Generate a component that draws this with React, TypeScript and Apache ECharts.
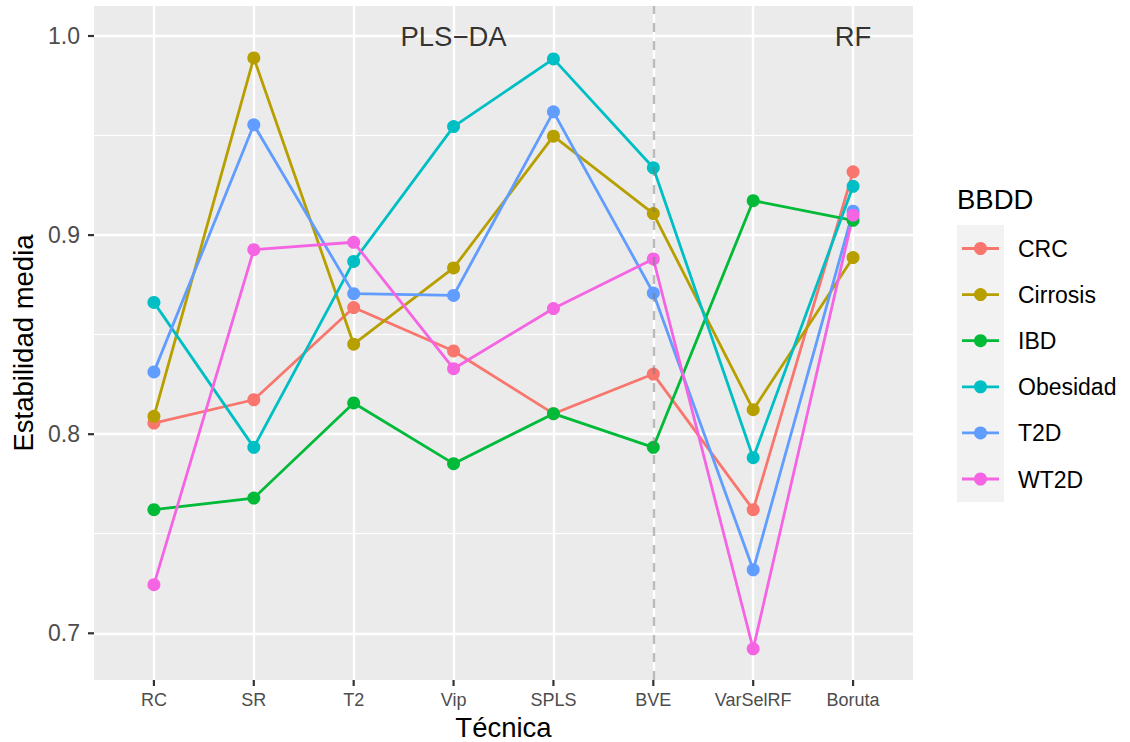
import React, { useEffect, useRef } from "react";
import * as echarts from "echarts";

const categories = ["RC", "SR", "T2", "Vip", "SPLS", "BVE", "VarSelRF", "Boruta"];
const groups = ["CRC", "Cirrosis", "IBD", "Obesidad", "T2D", "WT2D"];

const crc = [0.8056, 0.8173, 0.8636, 0.8418, 0.8103, 0.8302, 0.7621, 0.9318];
const cirrosis = [0.809, 0.989, 0.8452, 0.8835, 0.9497, 0.9108, 0.8123, 0.8887];
const ibd = [0.7621, 0.7679, 0.8157, 0.7852, 0.8103, 0.7934, 0.9173, 0.9074];
const obesidad = [0.8662, 0.7934, 0.8868, 0.9545, 0.9885, 0.9338, 0.7882, 0.9245];
const t2d = [0.8313, 0.9554, 0.8706, 0.8697, 0.9619, 0.8709, 0.7319, 0.912];
const wt2d = [0.7244, 0.8927, 0.8964, 0.8329, 0.8631, 0.888, 0.6922, 0.91];

const seriesValues = [crc, cirrosis, ibd, obesidad, t2d, wt2d];
const colors = ["#F8766D", "#B79F00", "#00BA38", "#00BFC4", "#619CFF", "#F564E3"];

const yTicks = [0.7, 0.8, 0.9, 1.0];
const annotationLabels = ["PLS\u2212DA", "RF"];
const annotationX = [3, 7];
const annotationY = [1.0, 1.0];
const separatorX = 5;

const X_MIN = -0.6;
const X_MAX = 7.6;
const Y_MIN = 0.67654;
const Y_MAX = 1.01507;

const GRID_LEFT = 94;
const GRID_TOP = 6;
const GRID_W = 819;
const GRID_H = 674;

const FONT = "'Liberation Sans', Arial, Helvetica, sans-serif";

const xToPx = (x: number) => GRID_LEFT + ((x - X_MIN) / (X_MAX - X_MIN)) * GRID_W;
const yToPx = (y: number) => GRID_TOP + ((Y_MAX - y) / (Y_MAX - Y_MIN)) * GRID_H;

export default function App() {
  const ref = useRef<HTMLDivElement>(null);

  useEffect(() => {
    if (!ref.current) return;
    const chart = echarts.init(ref.current, undefined, { renderer: "svg" });

    const lineSeries = groups.map((g, gi) => ({
      name: g,
      type: "line",
      data: seriesValues[gi].map((v, i) => [i, v]),
      showSymbol: false,
      symbol: "none",
      lineStyle: { color: colors[gi], width: 2.8 },
      itemStyle: { color: colors[gi] },
      z: 2,
      silent: true,
    }));

    const pointSeries = groups.map((g, gi) => ({
      name: g + "_pts",
      type: "scatter",
      data: seriesValues[gi].map((v, i) => [i, v]),
      symbol: "circle",
      symbolSize: 13,
      itemStyle: { color: colors[gi], opacity: 1 },
      z: 3,
      silent: true,
    }));

    const vlineSeries = {
      type: "line",
      data: [],
      z: 4,
      silent: true,
      markLine: {
        silent: true,
        symbol: "none",
        label: { show: false },
        lineStyle: { type: [9, 9], color: "rgba(120,120,120,0.5)", width: 2.4 },
        data: [{ xAxis: separatorX }],
      },
    };

    const annotationSeries = {
      type: "scatter",
      data: annotationLabels.map((l, i) => ({ name: l, value: [annotationX[i], annotationY[i]] })),
      symbolSize: 1,
      itemStyle: { color: "rgba(0,0,0,0)" },
      z: 5,
      silent: true,
      label: {
        show: true,
        position: "inside",
        formatter: (p: any) => p.name,
        fontSize: 27.5,
        fontFamily: FONT,
        color: "#000000",
        align: "center",
        verticalAlign: "middle",
      },
    };

    const graphics: any[] = [
      {
        id: "legend-title",
        type: "text",
        x: 957,
        y: 199,
        style: { text: "BBDD", font: `27.5px ${FONT}`, fill: "#000", textAlign: "left", textVerticalAlign: "middle" },
      },
      {
        id: "legend-bg",
        type: "rect",
        shape: { x: 957, y: 225, width: 47, height: 277 },
        style: { fill: "#F2F2F2" },
      },
    ];
    groups.forEach((g, gi) => {
      const y = 248.5 + gi * 46.1;
      graphics.push({
        id: "legend-line-" + gi,
        type: "line",
        shape: { x1: 962, y1: y, x2: 999, y2: y },
        style: { stroke: colors[gi], lineWidth: 2.8 },
      });
      graphics.push({
        id: "legend-dot-" + gi,
        type: "circle",
        shape: { cx: 980.5, cy: y, r: 6.5 },
        style: { fill: colors[gi] },
      });
      graphics.push({
        id: "legend-text-" + gi,
        type: "text",
        x: 1018,
        y: y + 0.5,
        style: { text: g, font: `23px ${FONT}`, fill: "#000", textAlign: "left", textVerticalAlign: "middle" },
      });
    });

    // Tick marks outside the panel, using the same linear scale as the axes
    yTicks.forEach((v, i) => {
      const py = yToPx(v);
      graphics.push({
        id: "ytick-" + i,
        type: "rect",
        z: 100,
        shape: { x: GRID_LEFT - 6, y: py - 1.1, width: 6, height: 2.2 },
        style: { fill: "#333333" },
      });
    });
    categories.forEach((_, i) => {
      const px = xToPx(i);
      graphics.push({
        id: "xtick-" + i,
        type: "rect",
        z: 100,
        shape: { x: px - 1.1, y: GRID_TOP + GRID_H, width: 2.2, height: 6 },
        style: { fill: "#333333" },
      });
    });

    const hiddenAxisLine = { show: false, onZero: false };

    chart.setOption({
      animation: false,
      backgroundColor: "#FFFFFF",
      textStyle: { fontFamily: FONT },
      grid: {
        left: GRID_LEFT,
        top: GRID_TOP,
        width: GRID_W,
        height: GRID_H,
        show: true,
        backgroundColor: "#EBEBEB",
        borderWidth: 0,
        containLabel: false,
        outerBoundsMode: "none",
      },
      xAxis: {
        type: "value",
        min: X_MIN,
        max: X_MAX,
        name: "Técnica",
        nameLocation: "middle",
        nameGap: 47.5,
        nameTextStyle: { fontSize: 27.5, color: "#000", fontFamily: FONT, verticalAlign: "middle" },
        axisLine: hiddenAxisLine,
        axisTick: { show: false, customValues: categories.map((_, i) => i) },
        axisLabel: {
          show: true,
          margin: 11,
          fontSize: 18,
          color: "#4D4D4D",
          fontFamily: FONT,
          customValues: categories.map((_, i) => i),
          formatter: (v: number) => categories[Math.round(v)] ?? "",
        },
        splitLine: { show: true, lineStyle: { color: "#FFFFFF", width: 2.4 } },
        minorSplitLine: { show: false },
      },
      yAxis: {
        type: "value",
        min: Y_MIN,
        max: Y_MAX,
        splitNumber: 3,
        name: "Estabilidad media",
        nameLocation: "middle",
        nameGap: 70.3,
        nameTextStyle: { fontSize: 27.5, color: "#000", fontFamily: FONT, verticalAlign: "middle" },
        axisLine: hiddenAxisLine,
        axisTick: { show: false, customValues: yTicks },
        axisLabel: {
          show: true,
          margin: 14,
          fontSize: 23,
          color: "#4D4D4D",
          fontFamily: FONT,
          customValues: yTicks,
          formatter: (v: number) => v.toFixed(1),
        },
        splitLine: { show: true, lineStyle: { color: "#FFFFFF", width: 2.4 } },
        minorTick: { show: false, splitNumber: 2 },
        minorSplitLine: { show: true, lineStyle: { color: "#FFFFFF", width: 1.2 } },
      },
      series: [...lineSeries, ...pointSeries, vlineSeries, annotationSeries],
      graphic: graphics,
    });

    return () => {
      chart.dispose();
    };
  }, []);

  return <div ref={ref} style={{ width: 1130, height: 742, position: "absolute", left: 0, top: 0 }} />;
}
